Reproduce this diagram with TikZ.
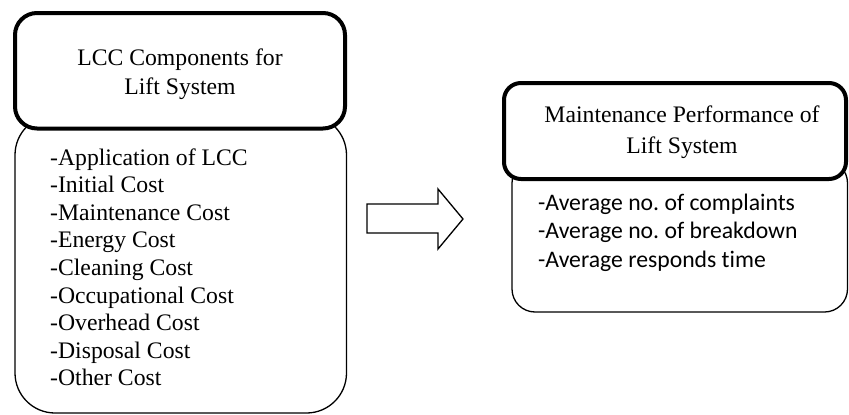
\documentclass[tikz,border=0pt]{standalone}
\usepackage{fontspec}
\setmainfont{Liberation Serif}
\newfontfamily\calfont[Ligatures={NoCommon,NoRare}]{Carlito}
\frenchspacing
\begin{document}
\begin{tikzpicture}[x=1pt,y=-1pt,
  headbox/.style={draw=black,line width=4pt,fill=white},
  bodybox/.style={draw=black,line width=1.3pt,fill=white},
  sertext/.style={inner sep=0pt,font=\fontsize{23.7}{27.6}\selectfont},
  caltext/.style={inner sep=0pt,font=\calfont\fontsize{23.7}{28.5}\selectfont},
  arrowshape/.style={draw=black,line width=1.3pt,line join=miter}]
\useasboundingbox (0,0) rectangle (849,415);
% left column
\draw[bodybox,rounded corners=40pt] (15,115) rectangle (346.5,413);
\draw[headbox,rounded corners=22pt] (15,13) rectangle (345,128.5);
\node[sertext,anchor=base] (t1) at (180,65.5) {LCC Components for};
\node[sertext,anchor=base] (t2) at (180,94.5) {Lift System};
\foreach \txt [count=\i] in {-Application of LCC,-Initial Cost,-Maintenance Cost,-Energy Cost,-Cleaning Cost,-Occupational Cost,-Overhead Cost,-Disposal Cost,-Other Cost}{
  \node[sertext,anchor=base west] (l\i) at (50,{165+27.6*(\i-1)}) {\txt};
}
% arrow
\draw[arrowshape] (367,204) -- (438,204) -- (438,189) -- (463,219) -- (438,249) -- (438,233) -- (367,233) -- cycle;
% right column
\draw[bodybox,rounded corners=23pt] (512,160) rectangle (847.5,312);
\draw[headbox,rounded corners=17pt] (504,83) rectangle (846,179);
\node[sertext,anchor=base] (r1) at (682,122) {Maintenance Performance of};
\node[sertext,anchor=base] (r2) at (682,153) {Lift System};
\foreach \txt [count=\i] in {-Average no. of complaints,-Average no. of breakdown,-Average responds time}{
  \node[caltext,anchor=base west] (m\i) at (538,{210+28.5*(\i-1)}) {\txt};
}
\end{tikzpicture}
\end{document}
